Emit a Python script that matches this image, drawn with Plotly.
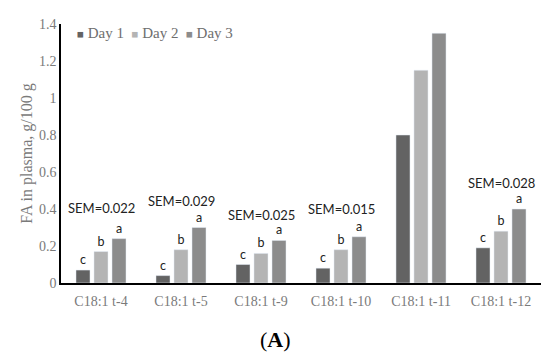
import plotly.graph_objects as go

categories = ["C18:1 t-4", "C18:1 t-5", "C18:1 t-9", "C18:1 t-10", "C18:1 t-11", "C18:1 t-12"]
series_names = ["Day 1", "Day 2", "Day 3"]
day1 = [0.07, 0.04, 0.10, 0.08, 0.80, 0.19]
day2 = [0.17, 0.18, 0.16, 0.18, 1.15, 0.28]
day3 = [0.24, 0.30, 0.23, 0.25, 1.35, 0.40]
letters1 = ["c", "c", "c", "c", "", "c"]
letters2 = ["b", "b", "b", "b", "", "b"]
letters3 = ["a", "a", "a", "a", "", "a"]
sem_labels = ["SEM=0.022", "SEM=0.029", "SEM=0.025", "SEM=0.015", "", "SEM=0.028"]
sem_y = [0.405, 0.445, 0.365, 0.40, None, 0.54]
y_ticks = [0, 0.2, 0.4, 0.6, 0.8, 1, 1.2, 1.4]
y_ticktext = ["0", "0.2", "0.4", "0.6", "0.8", "1", "1.2", "1.4"]
colors = ["#636363", "#b4b4b4", "#8c8c8c"]

serif = "Liberation Serif"
sans = "Lato"
tick_grey = "#7a7a7a"

fig = go.Figure()
for name, vals, lets, col in zip(series_names, [day1, day2, day3],
                                 [letters1, letters2, letters3], colors):
    fig.add_trace(go.Bar(x=categories, y=vals, name=name, marker_color=col,
                         text=lets, textposition="outside", cliponaxis=False,
                         showlegend=False,
                         textfont=dict(family=sans, size=12.5, color="#222222")))

for c, s, yv in zip(categories, sem_labels, sem_y):
    if s:
        fig.add_annotation(x=c, y=yv, text=s, showarrow=False, xref="x", yref="y",
                           font=dict(family=sans, size=13, color="#222222"))

# legend drawn as text
sq = "\u25a0"
nb = "\u00a0"
legend_parts = []
for name, col in zip(series_names, colors):
    legend_parts.append(f"<span style='color:{col};font-size:11.5px'>{sq}</span>{nb}{name}")
fig.add_annotation(x=0.029, y=0.965, xref="paper", yref="paper", xanchor="left", yanchor="middle",
                   text=(nb * 2).join(legend_parts), showarrow=False,
                   font=dict(family=serif, size=15, color="#6e6e6e"))

fig.add_annotation(x=0.446, y=-0.22, xref="paper", yref="paper", yanchor="middle",
                   text="(<b>A</b>)", showarrow=False,
                   font=dict(family=serif, size=22, color="black"))

fig.update_layout(
    width=550, height=363,
    margin=dict(l=61, r=9, t=24, b=80, autoexpand=False),
    paper_bgcolor="white", plot_bgcolor="white",
    barmode="group", bargap=0.325, bargroupgap=0.22,
    showlegend=False,
    xaxis=dict(showline=True, linecolor="black", linewidth=1.5, ticks="",
               ticklabelstandoff=4,
               tickfont=dict(family=serif, size=14, color=tick_grey), showgrid=False),
    yaxis=dict(range=[0, 1.4], tickvals=y_ticks, ticktext=y_ticktext,
               showline=True, linecolor="black", linewidth=1.5, showgrid=False, zeroline=False,
               ticks="", tickfont=dict(family=serif, size=14, color=tick_grey),
               title=dict(text="FA in plasma, g/100 g", font=dict(family=serif, size=16, color=tick_grey), standoff=2)),
)

fig.write_html("out.html", config={"displayModeBar": False},
               post_script="document.body.style.margin='0';")
